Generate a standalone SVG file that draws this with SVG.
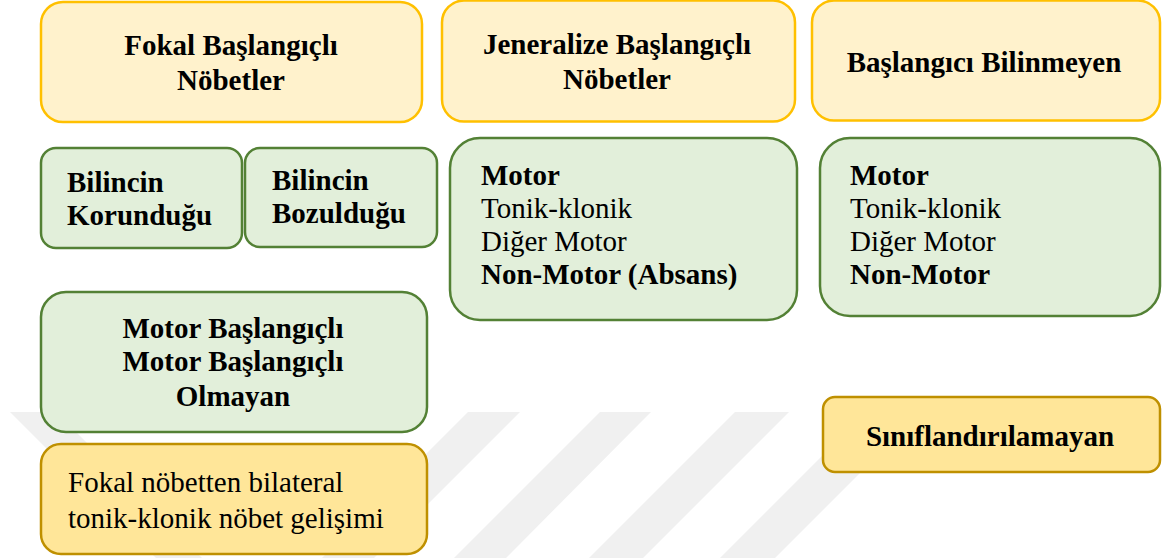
<svg xmlns="http://www.w3.org/2000/svg" width="1163" height="558" viewBox="0 0 1163 558">
<style>
text{font-family:"Liberation Serif","Times New Roman",serif;font-size:29px;fill:#000}
.b{font-weight:bold}
.c{text-anchor:middle}
.hdr{fill:#fff2cc;stroke:#ffc000;stroke-width:2.5}
.grn{fill:#e2efda;stroke:#538135;stroke-width:2.5}
.gld{fill:#ffe699;stroke:#bf9000;stroke-width:2.5}
.wm{fill:#f0f0f0}
</style>
<rect width="1163" height="558" fill="#ffffff"/>
<g id="watermark">
<polygon class="wm" points="10,412 56,412 202,558 156,558"/>
<polygon class="wm" points="468,412 520,412 374,558 322,558"/>
<polygon class="wm" points="600,412 651,412 506,558 454,558"/>
<polygon class="wm" points="735,412 789,412 643,558 589,558"/>
<polygon class="wm" points="866,412 921,412 775,558 720,558"/>
</g>
<g id="connectors"></g>
<g id="fokal">
<rect class="hdr" x="41" y="2" width="381" height="120" rx="22"/>
<text class="b c" x="231" y="55">Fokal Başlangıçlı</text>
<text class="b c" x="231" y="90">Nöbetler</text>
</g>
<g id="jeneralize">
<rect class="hdr" x="442" y="0.5" width="353" height="121" rx="22"/>
<text class="b c" x="617" y="54">Jeneralize Başlangıçlı</text>
<text class="b c" x="617" y="89">Nöbetler</text>
</g>
<g id="bilinmeyen">
<rect class="hdr" x="812" y="0.5" width="348" height="120" rx="22"/>
<text class="b c" x="984" y="72">Başlangıcı Bilinmeyen</text>
</g>
<g id="korundugu">
<rect class="grn" x="41" y="148" width="201" height="100" rx="15"/>
<text class="b" x="67" y="192">Bilincin</text>
<text class="b" x="67" y="225">Korunduğu</text>
</g>
<g id="bozuldugu">
<rect class="grn" x="245" y="148" width="192" height="99" rx="15"/>
<text class="b" x="272" y="190">Bilincin</text>
<text class="b" x="272" y="223">Bozulduğu</text>
</g>
<g id="jeneralize-list">
<rect class="grn" x="450" y="138" width="347" height="182" rx="30"/>
<text class="b" x="481" y="185">Motor</text>
<text x="481" y="218">Tonik-klonik</text>
<text x="481" y="251">Diğer Motor</text>
<text class="b" x="481" y="284">Non-Motor (Absans)</text>
</g>
<g id="bilinmeyen-list">
<rect class="grn" x="820" y="138" width="340" height="178" rx="30"/>
<text class="b" x="850" y="185">Motor</text>
<text x="850" y="218">Tonik-klonik</text>
<text x="850" y="251">Diğer Motor</text>
<text class="b" x="850" y="284">Non-Motor</text>
</g>
<g id="motor-baslangicli">
<rect class="grn" x="41" y="292" width="386" height="140" rx="25"/>
<text class="b c" x="233" y="338">Motor Başlangıçlı</text>
<text class="b c" x="233" y="371">Motor Başlangıçlı</text>
<text class="b c" x="233" y="406">Olmayan</text>
</g>
<g id="bilateral">
<rect class="gld" x="41" y="444" width="386" height="110" rx="20"/>
<text x="68" y="492">Fokal nöbetten bilateral</text>
<text x="68" y="528">tonik-klonik nöbet gelişimi</text>
</g>
<g id="siniflandirilamayan">
<rect class="gld" x="823" y="397" width="337" height="75" rx="12"/>
<text class="b c" x="990" y="446">Sınıflandırılamayan</text>
</g>
</svg>
